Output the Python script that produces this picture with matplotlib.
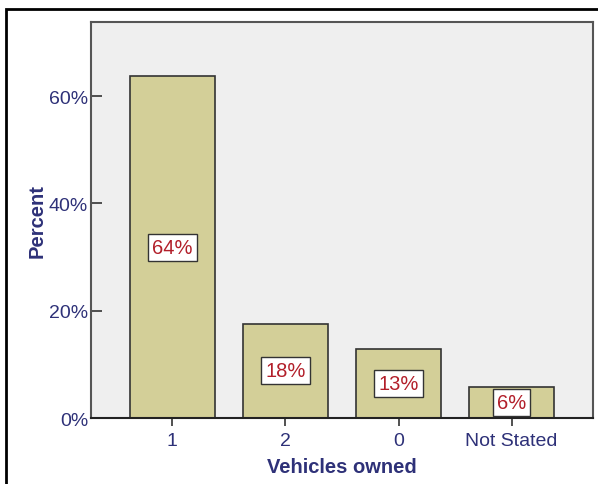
import matplotlib.pyplot as plt
from matplotlib.patches import Rectangle

categories = ['1', '2', '0', 'Not Stated']
percent = [63.7, 17.6, 12.9, 5.8]
labels = ['64%', '18%', '13%', '6%']
yticks = [0, 20, 40, 60]
ytick_labels = ['0%', '20%', '40%', '60%']

navy = '#2e3178'
red = '#b21f2a'

plt.rcParams['font.family'] = ['Liberation Sans', 'DejaVu Sans']

fig = plt.figure(figsize=(5.98, 4.85), dpi=100)
ax = fig.add_axes([91 / 598, 1 - 419 / 485, 502 / 598, 396 / 485])
ax.set_facecolor('#efefef')

x = range(len(categories))
ax.bar(x, percent, width=0.75, color='#d3cf98', edgecolor='#333333', linewidth=1.2, zorder=2)
for i, (p, lab) in enumerate(zip(percent, labels)):
    ax.text(i, p / 2, lab, ha='center', va='center', color=red, fontsize=14.5, zorder=3,
            bbox=dict(boxstyle='square,pad=0.2', facecolor='white', edgecolor='#333333', linewidth=1))

ax.set_xlim(-0.72, 3.72)
ax.set_ylim(0, 73.8)
ax.set_xticks(list(x))
ax.set_xticklabels(categories)
ax.set_yticks(yticks)
ax.set_yticklabels(ytick_labels)
ax.tick_params(axis='x', direction='out', length=6, width=1.2, colors='#333333', labelcolor=navy,
               labelsize=14, pad=4)
ax.tick_params(axis='y', direction='in', length=8, width=1.2, colors='#333333', labelcolor=navy,
               labelsize=14, pad=2)
for side in ['top', 'right', 'left']:
    ax.spines[side].set_color('#555555')
    ax.spines[side].set_linewidth(1.5)
ax.spines['bottom'].set_color('#222222')
ax.spines['bottom'].set_linewidth(1.5)

ax.set_xlabel('Vehicles owned', color=navy, fontsize=14.5, fontweight='bold', labelpad=6)
ax.set_ylabel('Percent', color=navy, fontsize=14.5, fontweight='bold', labelpad=2)

# outer frame
fig.patches.append(Rectangle((6 / 598, -0.1), 1.1, 1 - 10 / 485 + 0.1, transform=fig.transFigure,
                             fill=False, edgecolor='black', linewidth=2))

fig.savefig('out.png', dpi=100)
